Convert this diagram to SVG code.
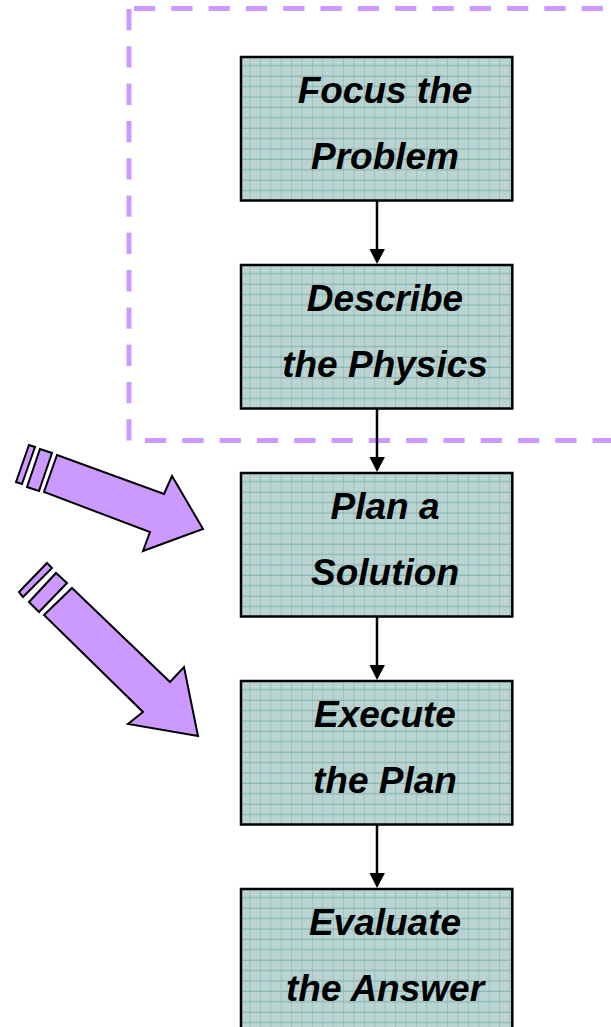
<svg xmlns="http://www.w3.org/2000/svg" width="611" height="1027" viewBox="0 0 611 1027">
  <style>
    .box { fill: url(#grid); stroke: #000; stroke-width: 2.5; }
    .lbl { font-family: "Liberation Sans", Arial, sans-serif; font-size: 37px; font-weight: bold; font-style: italic; fill: #000; text-anchor: middle; }
    .conn { stroke: #000; stroke-width: 2.5; fill: none; }
    .dash { stroke: #cc99ff; stroke-width: 5; fill: none; stroke-dasharray: 21.3 16; }
    .block { fill: #cc99ff; stroke: #000; stroke-width: 2; stroke-linejoin: miter; }
  </style>
  <defs>
    <pattern id="fine" x="0" y="0" width="2" height="2" patternUnits="userSpaceOnUse">
      <rect width="2" height="2" fill="#bfd8d6"/>
      <rect width="1" height="1" fill="#b5d0ce"/>
      <rect x="1" y="1" width="1" height="1" fill="#b5d0ce"/>
    </pattern>
    <pattern id="grid" x="240" y="57" width="10.4" height="10.4" patternUnits="userSpaceOnUse">
      <rect width="10.4" height="10.4" fill="url(#fine)"/>
      <line x1="10.4" y1="0" x2="10.4" y2="10.4" stroke="#85b5b2" stroke-width="1.2"/>
      <line x1="0" y1="8.8" x2="10.4" y2="8.8" stroke="#85b5b2" stroke-width="1.2"/>
    </pattern>
  </defs>

  <g id="focus-region">
    <line class="dash" x1="134" y1="8.5" x2="611" y2="8.5"/>
    <line class="dash" x1="129" y1="9" x2="129" y2="441"/>
    <line class="dash" x1="145" y1="440.5" x2="611" y2="440.5"/>
  </g>

  <g id="node-focus">
    <rect class="box" x="241" y="57" width="271.3" height="143.5"/>
    <text class="lbl" x="385" y="103">Focus the</text>
    <text class="lbl" x="385" y="169">Problem</text>
  </g>
  <g id="node-describe">
    <rect class="box" x="241" y="265" width="271.3" height="143.5"/>
    <text class="lbl" x="385" y="311">Describe</text>
    <text class="lbl" x="385" y="377">the Physics</text>
  </g>
  <g id="node-plan">
    <rect class="box" x="241" y="473" width="271.3" height="143.5"/>
    <text class="lbl" x="385" y="519">Plan a</text>
    <text class="lbl" x="385" y="585">Solution</text>
  </g>
  <g id="node-execute">
    <rect class="box" x="241" y="681" width="271.3" height="143.5"/>
    <text class="lbl" x="385" y="727">Execute</text>
    <text class="lbl" x="385" y="793">the Plan</text>
  </g>
  <g id="node-evaluate">
    <rect class="box" x="241" y="889" width="271.3" height="143.5"/>
    <text class="lbl" x="385" y="935">Evaluate</text>
    <text class="lbl" x="385" y="1001">the Answer</text>
  </g>

  <g id="connectors">
    <line class="conn" x1="377" y1="201" x2="377" y2="250"/>
    <path d="M369.5,249 L385,249 L377,264 Z" fill="#000"/>
    <line class="conn" x1="377" y1="409" x2="377" y2="458"/>
    <path d="M369.5,457 L385,457 L377,472 Z" fill="#000"/>
    <line class="conn" x1="377" y1="617" x2="377" y2="666"/>
    <path d="M369.5,665 L385,665 L377,680 Z" fill="#000"/>
    <line class="conn" x1="377" y1="825" x2="377" y2="874"/>
    <path d="M369.5,873 L385,873 L377,888 Z" fill="#000"/>
  </g>

  <g id="pointer-1">
    <polygon class="block" points="16,482 29,445 35,447 22,484"/>
    <polygon class="block" points="27,487 40,449 52,453 39,491"/>
    <polygon class="block" points="57,455 164,494 172,476 203,529 143,551 150,532 44,492"/>
  </g>
  <g id="pointer-2">
    <polygon class="block" points="19,592 47,563 52,568 23,597"/>
    <polygon class="block" points="29,602 56,573 67,583 39,612"/>
    <polygon class="block" points="72,588 170,682 184,667 198,736 128,724 143,712 44,615"/>
  </g>
</svg>
